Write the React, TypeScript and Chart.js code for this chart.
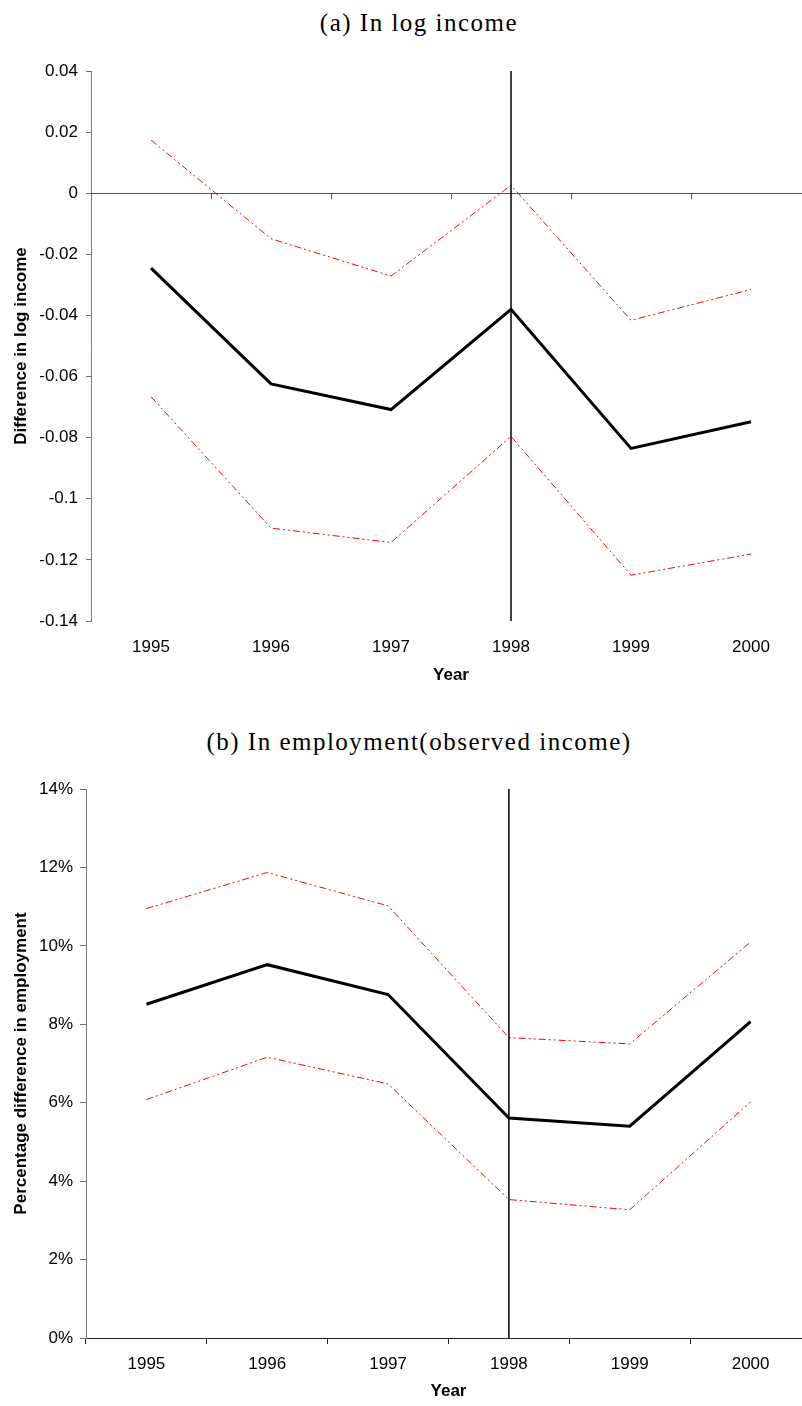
import React, { useEffect, useRef } from 'react';
import { Chart, registerables } from 'chart.js';

Chart.register(...registerables);

// ---------- data ----------
const years = ['1995', '1996', '1997', '1998', '1999', '2000'];
const reformYear = '1998';

const incomeEstimate = [-0.0245, -0.0624, -0.0708, -0.038, -0.0835, -0.0748];
const incomeUpper = [0.0174, -0.0149, -0.0271, 0.0026, -0.0416, -0.0315];
const incomeLower = [-0.0666, -0.1096, -0.1143, -0.0796, -0.125, -0.1181];
const incomeTickValues = [-0.14, -0.12, -0.1, -0.08, -0.06, -0.04, -0.02, 0, 0.02, 0.04];
const incomeTickLabels = ['-0.14', '-0.12', '-0.1', '-0.08', '-0.06', '-0.04', '-0.02', '0', '0.02', '0.04'];

const employmentEstimate = [8.51, 9.52, 8.76, 5.61, 5.4, 8.07];
const employmentUpper = [10.95, 11.87, 11.02, 7.66, 7.5, 10.1];
const employmentLower = [6.08, 7.16, 6.48, 3.53, 3.27, 6.02];
const employmentTickValues = [0, 2, 4, 6, 8, 10, 12, 14];
const employmentTickLabels = ['0%', '2%', '4%', '6%', '8%', '10%', '12%', '14%'];

const titleA = '(a) In log income';
const titleB = '(b) In employment(observed income)';
const yTitleA = 'Difference in log income';
const yTitleB = 'Percentage difference in employment';
const xTitle = 'Year';

// ---------- styling ----------
const SANS = "'Liberation Sans', Arial, Helvetica, sans-serif";
const SERIF = "'Liberation Serif', 'Times New Roman', serif";
const CI_DASH = [7, 3, 2, 3, 2, 3];

type PanelOpts = {
  est: number[];
  upper: number[];
  lower: number[];
  tickValues: number[];
  tickLabels: string[];
  yTitle: string;
  yWidth: number;
  yTickLen: number;
  yTickPad: number;
  padTop: number;
  padRight: number;
  zeroLine: boolean;
  xAxisLine: boolean;
  xTickPad: number;
  xHeight: number;
  xTitlePadTop: number;
  xTitlePadBottom: number;
};

function buildConfig(o: PanelOpts): any {
  const yMin = o.tickValues[0];
  const yMax = o.tickValues[o.tickValues.length - 1];
  const scales: any = {
    x: {
      type: 'category',
      offset: true,
      grid: o.xAxisLine
        ? { display: true, offset: true, drawOnChartArea: false, drawTicks: true, tickLength: 6, color: '#222' }
        : { display: false, drawTicks: false },
      border: o.xAxisLine ? { display: true, color: '#222', width: 1 } : { display: false },
      ticks: { color: '#000', font: { family: SANS, size: 17 }, padding: o.xTickPad, maxRotation: 0, autoSkip: false },
      title: {
        display: true,
        text: xTitle,
        color: '#000',
        font: { family: SANS, size: 17, weight: 'bold' },
        padding: { top: o.xTitlePadTop, bottom: o.xTitlePadBottom },
      },
      afterFit: (s: any) => {
        s.height = o.xHeight;
      },
    },
    y: {
      type: 'linear',
      min: yMin,
      max: yMax,
      afterBuildTicks: (s: any) => {
        s.ticks = o.tickValues.map((v) => ({ value: v }));
      },
      ticks: {
        color: '#000',
        font: { family: SANS, size: 17 },
        padding: o.yTickPad,
        callback: (_v: any, i: number) => o.tickLabels[i],
      },
      grid: { drawOnChartArea: false, drawTicks: true, tickLength: o.yTickLen, color: '#6a6a6a' },
      border: { display: true, color: '#7a7a7a', width: 1 },
      title: {
        display: true,
        text: o.yTitle,
        color: '#000',
        font: { family: SANS, size: 17, weight: 'bold' },
        padding: { top: 11, bottom: 11 },
      },
      afterFit: (s: any) => {
        s.width = o.yWidth;
      },
    },
  };
  if (o.zeroLine) {
    scales.x2 = {
      type: 'category',
      axis: 'x',
      position: { y: 0 },
      offset: true,
      grid: { display: true, offset: true, drawOnChartArea: false, drawTicks: true, tickLength: 5, color: '#555' },
      border: { display: true, color: '#555', width: 1 },
      ticks: { display: false },
    };
  }
  return {
    type: 'line',
    data: {
      labels: years,
      datasets: [
        {
          label: 'Estimate',
          data: o.est,
          borderColor: '#000',
          borderWidth: 3,
          pointRadius: 0,
          tension: 0,
          fill: false,
        },
        {
          label: 'Reform',
          data: [
            { x: reformYear, y: yMax },
            { x: reformYear, y: yMin },
          ],
          borderColor: '#000',
          borderWidth: 1.5,
          pointRadius: 0,
          fill: false,
        },
        {
          label: 'Upper bound',
          data: o.upper,
          borderColor: '#ff0000',
          borderWidth: 1,
          borderDash: CI_DASH,
          pointRadius: 0,
          tension: 0,
          fill: false,
        },
        {
          label: 'Lower bound',
          data: o.lower,
          borderColor: '#ff0000',
          borderWidth: 1,
          borderDash: CI_DASH,
          pointRadius: 0,
          tension: 0,
          fill: false,
        },
      ],
    },
    options: {
      responsive: false,
      animation: false,
      devicePixelRatio: 1,
      layout: { padding: { top: o.padTop, right: o.padRight, left: 0, bottom: 0 } },
      plugins: { legend: { display: false }, tooltip: { enabled: false }, title: { display: false } },
      elements: { point: { radius: 0 } },
      scales,
    },
  };
}

function Panel({ config, top, width, height }: { config: any; top: number; width: number; height: number }) {
  const ref = useRef<HTMLCanvasElement>(null);
  useEffect(() => {
    const chart = new Chart(ref.current as HTMLCanvasElement, config);
    return () => chart.destroy();
  }, []);
  return (
    <canvas
      ref={ref}
      width={width}
      height={height}
      style={{ position: 'absolute', left: 0, top, width, height, display: 'block' }}
    />
  );
}

const titleStyle = (top: number): React.CSSProperties => ({
  position: 'absolute',
  left: 0,
  top,
  width: 838,
  textAlign: 'center',
  fontFamily: SERIF,
  fontSize: 25,
  lineHeight: '30px',
  letterSpacing: '1.5px',
  color: '#000',
  whiteSpace: 'nowrap',
});

export default function App() {
  const configA = buildConfig({
    est: incomeEstimate,
    upper: incomeUpper,
    lower: incomeLower,
    tickValues: incomeTickValues,
    tickLabels: incomeTickLabels,
    yTitle: yTitleA,
    yWidth: 91,
    yTickLen: 5,
    yTickPad: 8,
    padTop: 31,
    padRight: 29,
    zeroLine: true,
    xAxisLine: false,
    xTickPad: 16,
    xHeight: 70,
    xTitlePadTop: 0,
    xTitlePadBottom: 5,
  });
  const configB = buildConfig({
    est: employmentEstimate,
    upper: employmentUpper,
    lower: employmentLower,
    tickValues: employmentTickValues,
    tickLabels: employmentTickLabels,
    yTitle: yTitleB,
    yWidth: 86,
    yTickLen: 6,
    yTickPad: 7,
    padTop: 29,
    padRight: 29,
    zeroLine: false,
    xAxisLine: true,
    xTickPad: 10,
    xHeight: 66,
    xTitlePadTop: 0,
    xTitlePadBottom: 2,
  });
  return (
    <div
      style={{
        position: 'absolute',
        left: 0,
        top: 0,
        width: 802,
        height: 1406,
        overflow: 'hidden',
        background: '#fff',
      }}
    >
      <div style={titleStyle(8)}>{titleA}</div>
      <Panel config={configA} top={40} width={840} height={651} />
      <div style={titleStyle(727)}>{titleB}</div>
      <Panel config={configB} top={760} width={840} height={644} />
    </div>
  );
}
